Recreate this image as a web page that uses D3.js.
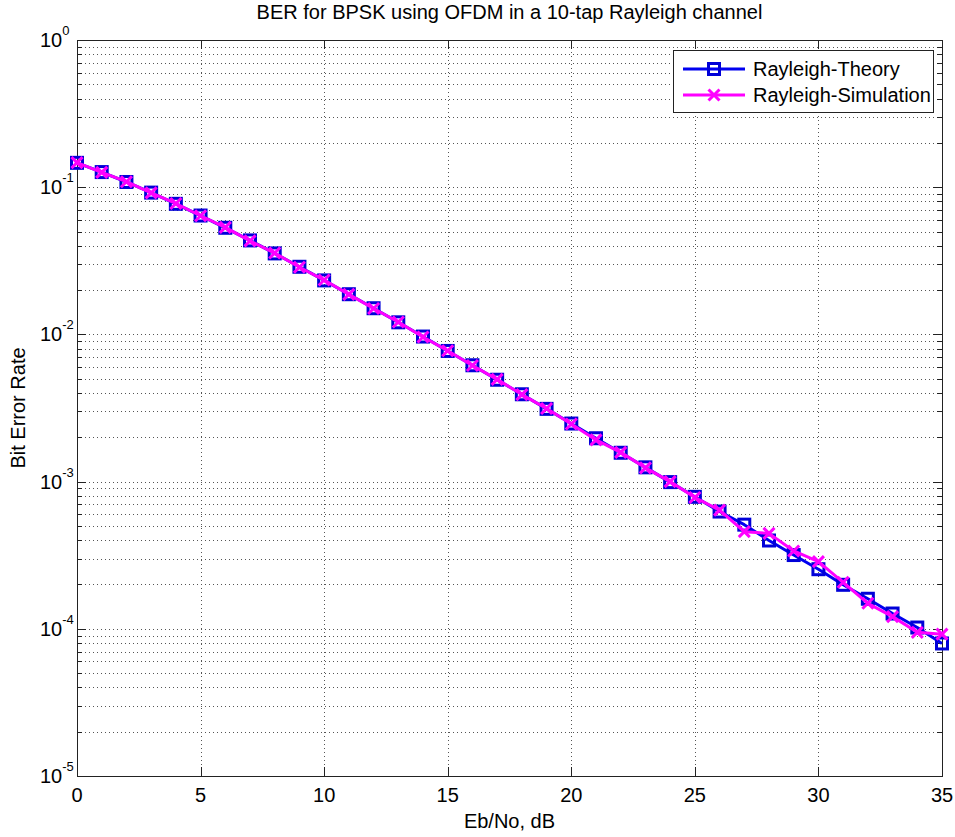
<!DOCTYPE html>
<html>
<head>
<meta charset="utf-8">
<script src="https://cdn.jsdelivr.net/npm/d3@7"></script>
<style>
  body { margin: 0; background: #fff; }
  text { font-family: "Liberation Sans", Arial, sans-serif; fill: #000; }
</style>
</head>
<body>
<svg id="chart" width="955" height="837"></svg>
<script>
const ebno = [0, 1, 2, 3, 4, 5, 6, 7, 8, 9, 10, 11, 12, 13, 14, 15, 16, 17, 18,
              19, 20, 21, 22, 23, 24, 25, 26, 27, 28, 29, 30, 31, 32, 33, 34, 35];

const theory = [0.1464, 0.1267, 0.1085, 0.0919, 0.0771, 0.0642, 0.0530, 0.0435,
                0.0355, 0.0288, 0.02327, 0.01875, 0.01506, 0.01208, 0.00967, 0.00772,
                0.00617, 0.00492, 0.00392, 0.00312, 0.00248, 0.00197, 0.00157, 0.00125,
                0.000992, 0.000788, 0.000626, 0.000510, 0.000398, 0.000317, 0.000254,
                0.000199, 0.000160, 0.000127, 0.000102, 0.0000795];

const simulation = [0.1470, 0.1262, 0.1090, 0.0915, 0.0775, 0.0640, 0.0533, 0.0432,
                    0.0357, 0.0286, 0.02340, 0.01870, 0.01500, 0.01215, 0.00960, 0.00775,
                    0.00615, 0.00495, 0.00390, 0.00314, 0.00246, 0.00192, 0.00158, 0.00124,
                    0.00100, 0.000780, 0.000640, 0.000457, 0.000445, 0.000338, 0.000286,
                    0.000207, 0.000149, 0.000121, 0.0000946, 0.0000920];

const xTicks = [0, 5, 10, 15, 20, 25, 30, 35];
const yExponents = [0, -1, -2, -3, -4, -5];
const seriesNames = ["Rayleigh-Theory", "Rayleigh-Simulation"];

const margin = { top: 40, right: 13, bottom: 61, left: 77 },
      W = 955, H = 837,
      width = W - margin.left - margin.right,
      height = H - margin.top - margin.bottom;

const svg = d3.select("#chart");
const g = svg.append("g").attr("transform", `translate(${margin.left},${margin.top})`);

const x = d3.scaleLinear().domain([0, 35]).range([0, width]);
const y = d3.scaleLog().domain([1e-5, 1]).range([height, 0]);

// minor values for the log grid
const minorVals = [];
yExponents.slice(1).forEach(e => {
  [2, 3, 4, 5, 6, 7, 8, 9].forEach(m => minorVals.push(m * Math.pow(10, e)));
});
const majorVals = yExponents.map(e => Math.pow(10, e));

// grid
const grid = g.append("g")
  .attr("stroke", "#555")
  .attr("stroke-width", 1)
  .attr("stroke-dasharray", "1,3");

grid.selectAll(".gy").data(majorVals.concat(minorVals)).enter().append("line")
  .attr("x1", 0).attr("x2", width)
  .attr("y1", d => Math.round(y(d)) + 0.5).attr("y2", d => Math.round(y(d)) + 0.5);

grid.selectAll(".gx").data(xTicks).enter().append("line")
  .attr("y1", 0).attr("y2", height)
  .attr("x1", d => Math.round(x(d)) + 0.5).attr("x2", d => Math.round(x(d)) + 0.5);

// ticks, inside, on all four sides
const ticks = g.append("g").attr("stroke", "#222").attr("stroke-width", 1);
xTicks.forEach(t => {
  const px = Math.round(x(t)) + 0.5;
  ticks.append("line").attr("x1", px).attr("x2", px).attr("y1", height).attr("y2", height - 9);
  ticks.append("line").attr("x1", px).attr("x2", px).attr("y1", 0).attr("y2", 9);
});
majorVals.forEach(v => {
  const py = Math.round(y(v)) + 0.5;
  ticks.append("line").attr("x1", 0).attr("x2", 9).attr("y1", py).attr("y2", py);
  ticks.append("line").attr("x1", width).attr("x2", width - 9).attr("y1", py).attr("y2", py);
});
minorVals.forEach(v => {
  const py = Math.round(y(v)) + 0.5;
  ticks.append("line").attr("x1", 0).attr("x2", 5).attr("y1", py).attr("y2", py);
  ticks.append("line").attr("x1", width).attr("x2", width - 5).attr("y1", py).attr("y2", py);
});

// box
g.append("rect")
  .attr("x", 0.5).attr("y", 0.5)
  .attr("width", width).attr("height", height)
  .attr("fill", "none").attr("stroke", "#222").attr("stroke-width", 1);

// tick labels
g.selectAll(".xl").data(xTicks).enter().append("text")
  .attr("x", d => x(d)).attr("y", height + 26)
  .attr("text-anchor", "middle")
  .style("font-size", "20px")
  .text(d => d);

const yl = g.selectAll(".yl").data(yExponents).enter().append("text")
  .attr("x", -37).attr("y", d => y(Math.pow(10, d)) + 7)
  .style("font-size", "20px");
yl.append("tspan").text("10");
yl.append("tspan").attr("dy", -12).style("font-size", "13px").text(d => d);

// lines + markers
const line = d3.line().x((d, i) => x(ebno[i])).y(d => y(d));
const xMark = "M-5.5,-5.5L5.5,5.5M-5.5,5.5L5.5,-5.5";

g.append("path").datum(theory)
  .attr("d", line).attr("fill", "none")
  .attr("stroke", "#0000f0").attr("stroke-width", 3).attr("stroke-linejoin", "round");

g.selectAll(".sq").data(theory).enter().append("rect")
  .attr("x", (d, i) => x(ebno[i]) - 5.5).attr("y", d => y(d) - 5.5)
  .attr("width", 11).attr("height", 11)
  .attr("fill", "none").attr("stroke", "#0000d8").attr("stroke-width", 3);

g.append("path").datum(simulation)
  .attr("d", line).attr("fill", "none")
  .attr("stroke", "#ff00ff").attr("stroke-width", 3).attr("stroke-linejoin", "round");

g.selectAll(".xm").data(simulation).enter().append("path")
  .attr("transform", (d, i) => `translate(${x(ebno[i])},${y(d)})`)
  .attr("d", xMark)
  .attr("stroke", "#ff00ff").attr("stroke-width", 3);

// title and axis labels
svg.append("text")
  .attr("x", margin.left + width / 2).attr("y", 19)
  .attr("text-anchor", "middle").style("font-size", "20px")
  .text("BER for BPSK using OFDM in a 10-tap Rayleigh channel");

svg.append("text")
  .attr("x", margin.left + width / 2).attr("y", 828)
  .attr("text-anchor", "middle").style("font-size", "20px")
  .text("Eb/No, dB");

svg.append("text")
  .attr("transform", `translate(25,${margin.top + height / 2}) rotate(-90)`)
  .attr("text-anchor", "middle").style("font-size", "20px")
  .text("Bit Error Rate");

// legend
const lg = svg.append("g");
lg.append("rect")
  .attr("x", 673.5).attr("y", 50.5).attr("width", 260).attr("height", 62)
  .attr("fill", "#fff").attr("stroke", "#222").attr("stroke-width", 1);

const rows = lg.selectAll(".row").data(seriesNames).enter().append("g")
  .attr("transform", (d, i) => `translate(0,${69 + i * 26})`);

rows.append("line")
  .attr("x1", 683).attr("x2", 745).attr("y1", 0).attr("y2", 0)
  .attr("stroke", (d, i) => i === 0 ? "#0000f0" : "#ff00ff").attr("stroke-width", 3);

rows.filter((d, i) => i === 0).append("rect")
  .attr("x", 708.5).attr("y", -5.5).attr("width", 11).attr("height", 11)
  .attr("fill", "none").attr("stroke", "#0000d8").attr("stroke-width", 3);

rows.filter((d, i) => i === 1).append("path")
  .attr("transform", "translate(714,0)")
  .attr("d", xMark)
  .attr("stroke", "#ff00ff").attr("stroke-width", 3);

rows.append("text")
  .attr("x", 753).attr("y", 0).attr("dy", "0.35em")
  .style("font-size", "20px")
  .text(d => d);
</script>
</body>
</html>
